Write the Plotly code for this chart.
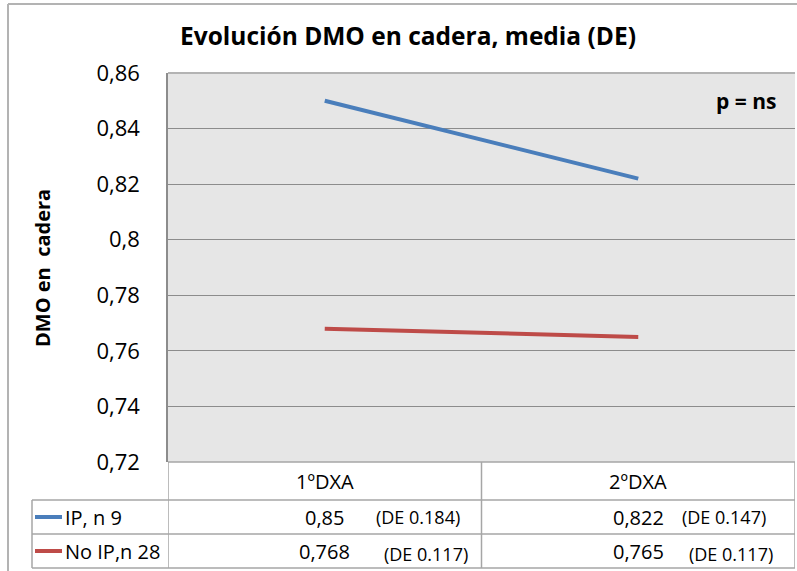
import plotly.graph_objects as go

# data
categories = ["1ºDXA", "2ºDXA"]
series_names = ["IP, n 9", "No IP,n 28"]
ip_values = [0.85, 0.822]
noip_values = [0.768, 0.765]
ip_de = [0.184, 0.147]
noip_de = [0.117, 0.117]
y_ticks = [0.72, 0.74, 0.76, 0.78, 0.80, 0.82, 0.84, 0.86]
y_ticktext = ["0,72", "0,74", "0,76", "0,78", "0,8", "0,82", "0,84", "0,86"]

W, H = 797, 571
FONT = "Open Sans"
BLUE = "#4A7EBB"
RED = "#BE4B48"
GRID = "#8c8c8c"
TABLE = "#a6a6a6"


def px(x):
    return x / W


def py(y):
    return 1 - y / H


fig = go.Figure()

fig.add_trace(go.Scatter(x=categories, y=ip_values, mode="lines", name=series_names[0],
                         line=dict(color=BLUE, width=4)))
fig.add_trace(go.Scatter(x=categories, y=noip_values, mode="lines", name=series_names[1],
                         line=dict(color=RED, width=4)))

shapes = []
annotations = []

# outer chart border
shapes.append(dict(type="line", xref="paper", yref="paper", x0=px(8), x1=px(8), y0=py(4), y1=py(571),
                   line=dict(color="#b3b3b3", width=2)))
shapes.append(dict(type="line", xref="paper", yref="paper", x0=px(8), x1=px(797), y0=py(4), y1=py(4),
                   line=dict(color="#b3b3b3", width=2)))

# data table grid
row_tops = [462, 500, 534, 568]
for i, yy in enumerate(row_tops):
    x0 = 168 if i == 0 else 32
    shapes.append(dict(type="line", xref="paper", yref="paper", x0=px(x0), x1=px(795),
                       y0=py(yy), y1=py(yy), line=dict(color=TABLE, width=1.5)))
for xv in [-0.5, 0.5, 1.5]:
    shapes.append(dict(type="line", xref="x", yref="paper", x0=xv, x1=xv, y0=py(462), y1=py(568),
                       line=dict(color=TABLE, width=1.5)))
shapes.append(dict(type="line", xref="paper", yref="paper", x0=px(32), x1=px(32), y0=py(500), y1=py(568),
                   line=dict(color=TABLE, width=1.5)))

# header row: categories
for c in categories:
    annotations.append(dict(x=c, y=py(481), xref="x", yref="paper", text=c, showarrow=False,
                            yanchor="middle", font=dict(size=20, color="#000000", family=FONT)))

# value rows
rows = [(series_names[0], BLUE, ip_values, ip_de, 517, [49, 42], 0),
        (series_names[1], RED, noip_values, noip_de, 551, [57, 49], 3)]
for name, color, vals, des, yc, de_off, de_dy in rows:
    shapes.append(dict(type="line", xref="paper", yref="paper", x0=px(35), x1=px(62),
                       y0=py(yc), y1=py(yc), line=dict(color=color, width=4)))
    annotations.append(dict(x=px(63), y=py(yc), xref="paper", yref="paper", text=name,
                            showarrow=False, xanchor="left", yanchor="middle",
                            font=dict(size=20, color="#000000", family=FONT)))
    for c, v, d, off in zip(categories, vals, des, de_off):
        annotations.append(dict(x=c, y=py(yc), xref="x", yref="paper",
                                text=str(v).replace(".", ","), showarrow=False, yanchor="middle",
                                font=dict(size=20, color="#000000", family=FONT)))
        annotations.append(dict(x=c, y=py(yc + de_dy), xref="x", yref="paper", xshift=off,
                                xanchor="left", yanchor="middle", text="(DE %s)" % d, showarrow=False,
                                font=dict(size=18, color="#000000", family=FONT)))

# y axis title
annotations.append(dict(x=px(42), y=py(268), xref="paper", yref="paper", text="<b>DMO en  cadera</b>",
                        textangle=-90, showarrow=False, xanchor="center", yanchor="middle",
                        font=dict(size=20, color="#000000", family=FONT)))

# p value
annotations.append(dict(x=px(778), y=py(101), xref="paper", yref="paper", text="<b>p = ns</b>",
                        xanchor="right", yanchor="middle", showarrow=False,
                        font=dict(size=21, color="#000000", family=FONT)))

# plot area top border
shapes.append(dict(type="line", xref="paper", yref="paper", x0=px(168), x1=px(795), y0=py(73), y1=py(73),
                   line=dict(color="#b3b3b3", width=2)))

fig.update_layout(
    width=W, height=H,
    margin=dict(l=0, r=0, t=0, b=0, autoexpand=False),
    paper_bgcolor="white",
    plot_bgcolor="#e6e6e6",
    showlegend=False,
    title=dict(text="<b>Evolución DMO en cadera, media (DE)</b>", x=px(408), xanchor="center",
               y=py(36), yanchor="middle", font=dict(size=24.5, color="#000000", family=FONT)),
    xaxis=dict(domain=[px(168), px(795)], range=[-0.5, 1.5], showticklabels=False, showgrid=False,
               zeroline=False, showline=False, fixedrange=True, automargin=False),
    yaxis=dict(domain=[py(462), py(73)], range=[0.72, 0.86], tickvals=y_ticks, ticktext=y_ticktext,
               showgrid=True, gridcolor=GRID, gridwidth=1, zeroline=False,
               showline=True, linecolor=GRID, linewidth=1.5, automargin=False,
               ticks="", ticklabelstandoff=22,
               tickfont=dict(size=22, color="#000000", family=FONT)),
    shapes=shapes,
    annotations=annotations,
)

fig.write_html("out.html", config={"displayModeBar": False},
               post_script="document.body.style.margin='0';")
